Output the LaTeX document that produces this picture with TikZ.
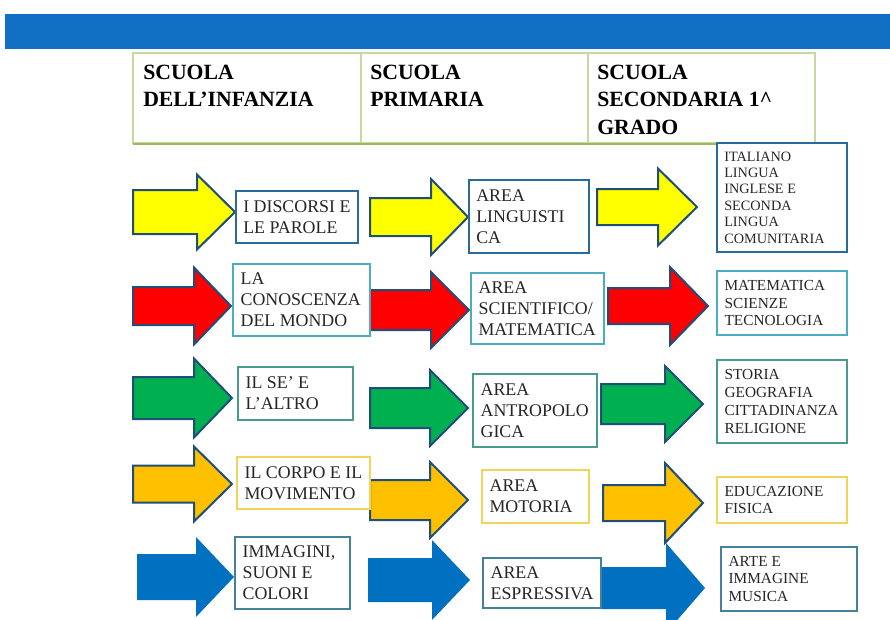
\documentclass[tikz,border=0pt]{standalone}
\usepackage{fontspec}
\setmainfont{Liberation Serif}
\usetikzlibrary{positioning}
\definecolor{slideblue}{HTML}{1170C4}
\definecolor{olivegrid}{HTML}{C9D8A2}
\definecolor{oliveline}{HTML}{9BBB59}
\definecolor{arrowedge}{HTML}{1F4E79}
\definecolor{ayellow}{HTML}{FFFF00}
\definecolor{ared}{HTML}{FF0000}
\definecolor{agreen}{HTML}{00B050}
\definecolor{aorange}{HTML}{FFC000}
\definecolor{ablue}{HTML}{0070C0}
\definecolor{edgeone}{HTML}{2A6B9C}
\definecolor{edgetwo}{HTML}{4BACC6}
\definecolor{edgethree}{HTML}{4A9A8E}
\definecolor{edgefour}{HTML}{F2D45C}
\definecolor{edgefive}{HTML}{44819A}
\definecolor{boxtext}{HTML}{262626}
% block arrow: tail x, tip x, mid y, head half, shaft half, head length, style
\newcommand{\fatarrow}[7]{%
  \path[#7] (#1,#3-#5) -- (#2-#6,#3-#5) -- (#2-#6,#3-#4) -- (#2,#3)
    -- (#2-#6,#3+#4) -- (#2-#6,#3+#5) -- (#1,#3+#5) -- cycle;
}
% field box: name, x1, y1, x2, y2, edge, font style, text
\newcommand{\fieldbox}[8]{%
  \pgfmathsetmacro{\boxw}{(#4-#2)*0.75}
  \pgfmathsetmacro{\boxh}{(#5-#3)*0.75}
  \node[field,#6,minimum width=\boxw pt,minimum height=\boxh pt]
        (#1) at ({(#2+#4)/2},{(#3+#5)/2}) {};
  \node[fieldtext,#7] (#1t) at (#1.west) {#8};
}

\begin{document}
\begin{tikzpicture}[x=0.75pt,y=-0.75pt,
  field/.style={draw,fill=white,line width=1pt,inner sep=0pt},
  fieldtext/.style={anchor=west,xshift=6pt,align=left,inner sep=0pt,text=boxtext},
  colA/.style={font=\fontsize{13.4}{15.8}\selectfont},
  colC/.style={font=\fontsize{11.5}{13.4}\selectfont},
  colCs/.style={font=\fontsize{10.7}{12.3}\selectfont},
  schoolhead/.style={anchor=north west,align=left,inner sep=0pt,
    font=\bfseries\fontsize{16.3}{20.5}\selectfont},
  blockedge/.style={fill=#1,draw=arrowedge,line width=1.5pt,line join=miter},
  blockflat/.style={fill=#1}]
  \useasboundingbox (0,0) rectangle (890,619);
  \clip (0,0) rectangle (890,619);

  % top band
  \fill[slideblue] (5,14) rectangle (890,49);

  % header table
  \draw[olivegrid,line width=0.8pt] (133,53) rectangle (815,143);
  \draw[olivegrid,line width=0.8pt] (361,53) -- (361,143) (588,53) -- (588,143);
  \draw[oliveline,line width=2.2pt] (133,144) -- (815,144);
  \node[schoolhead] (hinf) at (143,65) {SCUOLA\\DELL'INFANZIA};
  \node[schoolhead] (hpri) at (370,65) {SCUOLA\\PRIMARIA};
  \node[schoolhead] (hsec) at (597,65) {SCUOLA\\SECONDARIA 1\textasciicircum\\GRADO};

  % arrows
  \fatarrow{133}{235}{212}{37.5}{22}{38}{blockedge=ayellow}
  \fatarrow{370}{468}{217}{38}{19}{37}{blockedge=ayellow}
  \fatarrow{597}{697}{207}{38.5}{18}{39}{blockedge=ayellow}
  \fatarrow{133}{231}{306}{38.5}{19}{37}{blockedge=ared}
  \fatarrow{370}{469}{310}{38}{20}{38}{blockedge=ared}
  \fatarrow{608}{708}{306}{39}{18}{38}{blockedge=ared}
  \fatarrow{133}{232}{398}{39.5}{21}{38}{blockedge=agreen}
  \fatarrow{370}{468}{408}{38}{20}{38}{blockedge=agreen}
  \fatarrow{601}{703}{404}{38}{20}{38}{blockedge=agreen}
  \fatarrow{133}{232}{484}{37.5}{18.5}{38}{blockedge=aorange}
  \fatarrow{370}{468}{500}{38}{20}{38}{blockedge=aorange}
  \fatarrow{603}{703}{503}{40}{18}{38}{blockedge=aorange}
  \fatarrow{137}{234}{577}{40}{23}{38}{blockflat=ablue}
  \fatarrow{368}{470}{580}{40}{22}{38}{blockflat=ablue}
  \fatarrow{600}{705}{588}{45}{21}{39}{blockflat=ablue}

  % fields
  \fieldbox{inf1}{236}{191}{358}{243}{draw=edgeone,line width=1.5pt}{colA}{I DISCORSI E\\LE PAROLE}
  \fieldbox{pri1}{469}{180}{589}{253}{draw=edgeone,line width=1.5pt}{colA}{AREA\\LINGUISTI\\CA}
  \fieldbox{sec1}{717}{143}{847}{252}{draw=edgeone,line width=1.5pt}{colCs}{ITALIANO\\LINGUA\\INGLESE E\\SECONDA\\LINGUA\\COMUNITARIA}
  \fieldbox{inf2}{233}{264}{370}{336}{draw=edgetwo}{colA}{LA\\CONOSCENZA\\DEL MONDO}
  \fieldbox{pri2}{471}{273}{604}{344}{draw=edgetwo}{colA}{AREA\\SCIENTIFICO/\\MATEMATICA}
  \fieldbox{sec2}{717}{271}{847}{335}{draw=edgetwo}{colC}{MATEMATICA\\SCIENZE\\TECNOLOGIA}
  \fieldbox{inf3}{238}{367}{353}{420}{draw=edgethree}{colA}{IL SE' E\\L'ALTRO}
  \fieldbox{pri3}{473}{374}{597}{447}{draw=edgethree}{colA}{AREA\\ANTROPOLO\\GICA}
  \fieldbox{sec3}{717}{360}{847}{443}{draw=edgethree}{colC}{STORIA\\GEOGRAFIA\\CITTADINANZA\\RELIGIONE}
  \fieldbox{inf4}{237}{457}{370}{509}{draw=edgefour}{colA}{IL CORPO E IL\\MOVIMENTO}
  \fieldbox{pri4}{482}{470}{589}{523}{draw=edgefour}{colA}{AREA\\MOTORIA}
  \fieldbox{sec4}{717}{477}{847}{523}{draw=edgefour}{colC}{EDUCAZIONE\\FISICA}
  \fieldbox{inf5}{235}{537}{350}{609}{draw=edgefive}{colA}{IMMAGINI,\\SUONI E\\COLORI}
  \fieldbox{pri5}{483}{558}{601}{608}{draw=edgefive}{colA}{AREA\\ESPRESSIVA}
  \fieldbox{sec5}{721}{547}{857}{611}{draw=edgefive}{colC}{ARTE E\\IMMAGINE\\MUSICA}
\end{tikzpicture}
\end{document}
